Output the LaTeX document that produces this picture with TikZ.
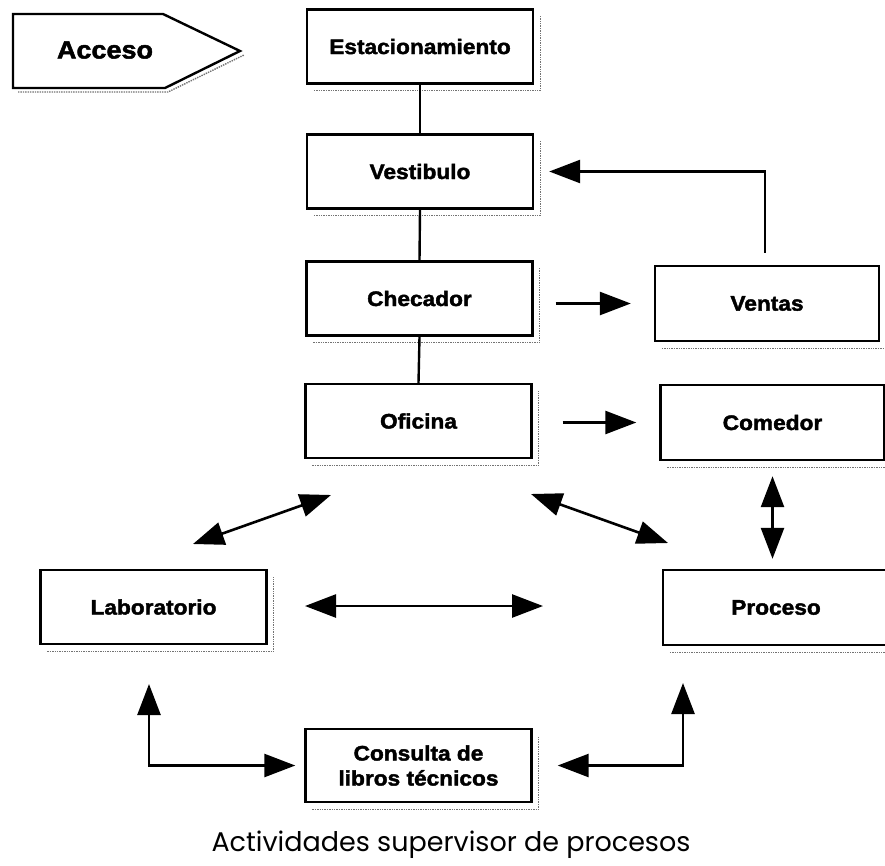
\documentclass[tikz,border=0pt]{standalone}
\usepackage{fontspec}
\usetikzlibrary{arrows.meta,calc}
\newfontfamily\boxfont[FakeStretch=1.08,FakeBold=2]{Liberation Sans}
\newfontfamily\captionfont{Poppins}
\tikzset{
  box/.style={draw, line width=2.4pt, minimum width=226pt, minimum height=74pt,
    inner sep=0pt, font=\boxfont\bfseries\fontsize{21}{25}\selectfont, align=center},
  shadowline/.style={black!55, densely dotted, line width=1.4pt},
  link/.style={line width=2.4pt},
  tip/.style={Triangle[length=31pt,width=23pt]},
  arr/.style={line width=2.6pt, -{Triangle[length=31pt,width=23pt]}},
  dbl/.style={line width=2.6pt, {Triangle[length=31pt,width=23pt]}-{Triangle[length=31pt,width=23pt]}},
}
\newcommand{\boxshadow}[1]{%
  \draw[shadowline] ($(#1.south west)+(8,6)$) -- ($(#1.south east)+(6,6)$)
    -- ($(#1.north east)+(6,8)$);}
\begin{document}
\begin{tikzpicture}[x=1pt,y=-1pt]
  \useasboundingbox (0,0) rectangle (885,865);
  \clip (0,0) rectangle (885,865);

  % entry sign
  \draw[shadowline] (18,92) -- (168,92) -- (244,55);
  \draw[line width=2.4pt, line join=miter] (13,14) -- (163,14) -- (240,51) -- (165,88) -- (13,88) -- cycle;
  \node[font=\boxfont\bfseries\fontsize{25}{30}\selectfont] (acc) at (105,50) {Acceso};

  % rooms
  \node[box] (est) at (420,46.5)  {Estacionamiento};
  \node[box] (ves) at (420,171.5) {Vestibulo};
  \node[box] (che) at (419.5,298.5) {Checador};
  \node[box] (ofi) at (418.5,421) {Oficina};
  \node[box, minimum width=224pt, minimum height=75pt] (ven) at (767,303.5) {Ventas};
  \node[box, minimum width=224pt, minimum height=75pt] (com) at (772.5,422.5) {Comedor};
  \node[box, minimum width=226pt, minimum height=75pt] (pro) at (776,607.5) {Proceso};
  \node[box] (lab) at (153.5,607) {Laboratorio};
  \node[box, minimum height=73pt] (con) at (418.5,765.5) {Consulta de\\libros técnicos};

  \foreach \n in {est,ves,che,ofi,ven,com,pro,lab,con} {\boxshadow{\n}}

  % main corridor
  \draw[link] (est.south) -- (ves.north);
  \draw[link] (ves.south) -- (che.north);
  \draw[link] (che.south) -- (ofi.north);

  % one-way flows
  \draw[arr, shorten <=22pt, shorten >=23pt] (che.east |- ven.west) -- (ven.west);
  \draw[arr, shorten <=30pt, shorten >=23pt] (ofi.east |- com.west) -- (com.west);
  \draw[arr, shorten <=12pt, shorten >=15pt] ($(ven.north)+(-2,0)$) |- (ves.east);

  % two-way flows
  \coordinate (olA) at (331,495);
  \coordinate (olB) at (193,544);
  \coordinate (opA) at (531,494);
  \coordinate (opB) at (668,543);
  \coordinate (lpA) at (305,606);
  \coordinate (lpB) at (543,606);
  \coordinate (lcA) at (149,684);
  \coordinate (pcA) at (683,683);
  \draw[dbl] (olA) -- (olB);
  \draw[dbl] (opA) -- (opB);
  \draw[dbl] (lpA) -- (lpB);
  \draw[dbl, shorten <=15pt, shorten >=10pt] (com.south) -- (com.south |- pro.north);
  \draw[dbl, shorten >=9pt] (lcA) |- (con.west);
  \draw[dbl, shorten >=25pt] (pcA) |- (con.east);

  \node[font=\captionfont\fontsize{27}{32}\selectfont] (cap) at (451,845) {Actividades supervisor de procesos};
\end{tikzpicture}
\end{document}
